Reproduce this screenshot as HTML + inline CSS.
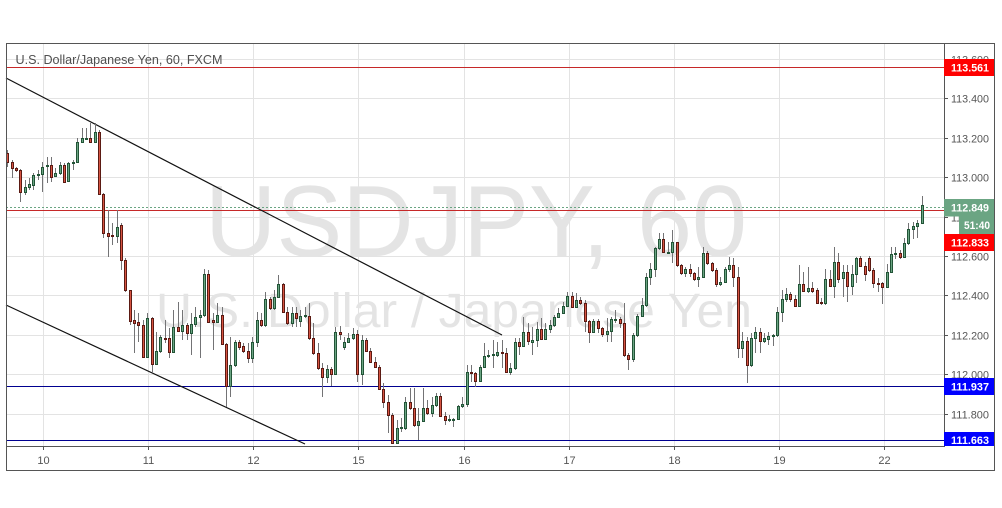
<!DOCTYPE html>
<html><head><meta charset="utf-8"><style>
html,body{margin:0;padding:0;background:#fff;}
svg{display:block;}
text{font-family:"Liberation Sans",Arial,sans-serif;}
</style></head><body>
<svg width="1002" height="508" viewBox="0 0 1002 508" xmlns="http://www.w3.org/2000/svg">
<rect x="0" y="0" width="1002" height="508" fill="#fff"/>
<!-- grid -->
<g stroke="#e3e3e3" stroke-width="1">
<path d="M6 59.5H944M6 98.5H944M6 138.5H944M6 177.5H944M6 217.5H944M6 256.5H944M6 295.5H944M6 335.5H944M6 374.5H944M6 414.5H944"/>
<path d="M43.5 43V446M148.5 43V446M253.5 43V446M358.5 43V446M464.5 43V446M569.5 43V446M674.5 43V446M779.5 43V446M884.5 43V446"/>
</g>
<!-- watermark -->
<text x="205" y="256" font-size="101" fill="#e4e4e4" textLength="542" lengthAdjust="spacingAndGlyphs">USDJPY, 60</text>
<text x="156" y="327" font-size="48" fill="#e4e4e4" textLength="596" lengthAdjust="spacingAndGlyphs">U.S. Dollar / Japanese Yen</text>
<!-- horizontal levels -->
<path d="M6 67.5H944M6 210.5H944" stroke="#c62828" stroke-width="1"/>
<path d="M6 386.5H944M6 440.5H944" stroke="#000090" stroke-width="1"/>
<path d="M6 207.5H944" stroke="#6ba583" stroke-width="1" stroke-dasharray="2,2"/>
<!-- trend lines -->
<path d="M6 78L502 335M6 305L305 444" stroke="#111" stroke-width="1.2" fill="none"/>
<!-- wicks -->
<path fill="none" stroke="#737375" stroke-width="1" d="M7.5 150V167M12.5 160V178M16.5 167V172M20.5 169V202M25.5 180V195M29.5 178V190M33.5 173V190M38.5 170V180M42.5 162V192M47.5 157V183M51.5 157V182M55.5 168V177M60.5 162V175M64.5 163V183M68.5 162V182M73.5 160V170M77.5 138V163M82.5 128V143M86.5 128V140M90.5 123V143M95.5 123V143M99.5 130V195M103.5 193V238M108.5 210V257M112.5 223V245M117.5 210V243M121.5 223V270M125.5 258V292M130.5 290V325M134.5 310V353M138.5 313V342M143.5 320V358M147.5 313V358M152.5 317V373M156.5 332V365M160.5 335V353M165.5 320V343M169.5 328V358M173.5 310V353M178.5 302V332M182.5 310V340M187.5 323V340M191.5 313V355M195.5 307V327M200.5 310V358M204.5 269V317M208.5 270V323M213.5 313V350M217.5 303V323M222.5 307V345M226.5 343V407M230.5 337V397M235.5 340V367M239.5 340V350M243.5 343V353M248.5 343V363M252.5 337V363M257.5 312V347M261.5 313V327M265.5 292V327M270.5 297V310M274.5 290V310M278.5 275V298M283.5 283V313M287.5 307V325M292.5 307V327M296.5 307V327M300.5 310V327M305.5 307V318M309.5 303V340M313.5 323V355M318.5 343V370M322.5 363V397M327.5 365V383M331.5 367V386M335.5 327V375M340.5 326V340M344.5 337V350M348.5 333V343M353.5 328V340M357.5 330V382M362.5 335V385M366.5 338V352M370.5 348V363M375.5 357V368M379.5 365V390M383.5 383V408M388.5 395V433M392.5 413V443M397.5 420V444M401.5 418V432M405.5 397V430M410.5 388V410M414.5 388V427M418.5 408V440M423.5 388V422M427.5 400V415M432.5 397V417M436.5 393V407M440.5 393V417M445.5 412V425M449.5 415V422M453.5 418V427M458.5 405V420M462.5 397V408M467.5 365V407M471.5 365V382M475.5 372V387M480.5 365V382M484.5 343V368M488.5 350V358M493.5 340V368M497.5 342V357M502.5 340V368M506.5 348V372M510.5 363V375M515.5 338V370M519.5 338V355M523.5 317V347M528.5 323V345M532.5 327V355M537.5 322V347M541.5 318V340M545.5 323V340M550.5 320V333M554.5 315V327M558.5 308V318M563.5 302V314M567.5 292V307M572.5 292V308M576.5 293V308M580.5 297V305M585.5 300V332M589.5 320V343M593.5 319V333M598.5 319V333M602.5 327V337M607.5 318V342M611.5 317V342M615.5 310V323M620.5 317V328M624.5 303V357M628.5 353V370M633.5 333V362M637.5 314V337M642.5 298V317M646.5 273V307M650.5 263V285M655.5 247V277M659.5 233V250M663.5 233V253M668.5 242V253M672.5 230V263M677.5 242V267M681.5 264V275M685.5 267V277M690.5 264V277M694.5 272V281M698.5 267V287M703.5 247V278M707.5 251V265M712.5 262V272M716.5 268V287M720.5 277V286M725.5 267V283M729.5 257V272M733.5 258V287M738.5 267V358M742.5 332V358M747.5 337V383M751.5 333V367M755.5 327V353M760.5 328V353M764.5 333V343M768.5 332V345M773.5 334V346M777.5 307V337M782.5 290V322M786.5 288V302M790.5 292V302M795.5 295V307M799.5 265V307M803.5 272V292M808.5 267V293M812.5 282V293M817.5 288V303M821.5 298V305M825.5 269V305M830.5 270V287M834.5 247V298M838.5 253V283M843.5 265V297M847.5 265V302M852.5 265V295M856.5 257V283M860.5 256V267M865.5 262V281M869.5 256V272M873.5 268V288M878.5 278V292M882.5 282V304M887.5 264V288M891.5 247V273M895.5 247V259M900.5 250V259M904.5 238V257M908.5 223V245M913.5 222V239M917.5 220V238M922.5 196V223"/>
<!-- up bodies -->
<path fill="#6ba583" stroke="#225437" stroke-width="1" d="M24.5 187.5h2V192.5h-2zM28.5 184.5h2V187.5h-2zM32.5 175.5h2V185.5h-2zM37.5 174.5h2V175.5h-2zM41.5 167.5h2V174.5h-2zM46.5 165.5h2V166.5h-2zM54.5 173.5h2V176.5h-2zM59.5 165.5h2V173.5h-2zM67.5 163.5h2V181.5h-2zM72.5 162.5h2V163.5h-2zM76.5 142.5h2V162.5h-2zM81.5 138.5h2V142.5h-2zM85.5 138.5h2V139.5h-2zM94.5 132.5h2V142.5h-2zM116.5 227.5h2V236.5h-2zM146.5 318.5h2V357.5h-2zM155.5 351.5h2V364.5h-2zM159.5 337.5h2V351.5h-2zM172.5 327.5h2V352.5h-2zM181.5 325.5h2V331.5h-2zM190.5 324.5h2V333.5h-2zM194.5 317.5h2V324.5h-2zM199.5 315.5h2V317.5h-2zM203.5 274.5h2V315.5h-2zM216.5 315.5h2V322.5h-2zM229.5 365.5h2V386.5h-2zM234.5 342.5h2V365.5h-2zM251.5 342.5h2V358.5h-2zM256.5 320.5h2V342.5h-2zM264.5 299.5h2V325.5h-2zM273.5 297.5h2V308.5h-2zM277.5 284.5h2V297.5h-2zM291.5 313.5h2V323.5h-2zM299.5 316.5h2V321.5h-2zM304.5 315.5h2V316.5h-2zM326.5 369.5h2V377.5h-2zM334.5 332.5h2V374.5h-2zM343.5 342.5h2V347.5h-2zM347.5 338.5h2V342.5h-2zM352.5 334.5h2V338.5h-2zM361.5 340.5h2V374.5h-2zM396.5 428.5h2V443.5h-2zM400.5 427.5h2V428.5h-2zM404.5 402.5h2V428.5h-2zM417.5 421.5h2V425.5h-2zM422.5 408.5h2V421.5h-2zM431.5 405.5h2V413.5h-2zM435.5 396.5h2V405.5h-2zM448.5 419.5h2V420.5h-2zM452.5 419.5h2V420.5h-2zM457.5 406.5h2V419.5h-2zM461.5 404.5h2V406.5h-2zM466.5 372.5h2V404.5h-2zM479.5 367.5h2V381.5h-2zM483.5 356.5h2V367.5h-2zM487.5 355.5h2V356.5h-2zM492.5 354.5h2V355.5h-2zM496.5 352.5h2V355.5h-2zM509.5 368.5h2V372.5h-2zM514.5 342.5h2V368.5h-2zM522.5 332.5h2V346.5h-2zM531.5 340.5h2V342.5h-2zM536.5 329.5h2V340.5h-2zM544.5 329.5h2V339.5h-2zM549.5 325.5h2V329.5h-2zM553.5 317.5h2V325.5h-2zM557.5 313.5h2V317.5h-2zM562.5 306.5h2V313.5h-2zM566.5 296.5h2V306.5h-2zM575.5 300.5h2V307.5h-2zM592.5 321.5h2V332.5h-2zM606.5 331.5h2V334.5h-2zM610.5 319.5h2V331.5h-2zM614.5 319.5h2V320.5h-2zM632.5 335.5h2V359.5h-2zM636.5 316.5h2V335.5h-2zM641.5 305.5h2V316.5h-2zM645.5 277.5h2V305.5h-2zM649.5 269.5h2V277.5h-2zM654.5 248.5h2V269.5h-2zM658.5 239.5h2V248.5h-2zM667.5 252.5h2V253.5h-2zM671.5 242.5h2V252.5h-2zM684.5 269.5h2V273.5h-2zM697.5 277.5h2V279.5h-2zM702.5 253.5h2V277.5h-2zM719.5 282.5h2V284.5h-2zM724.5 269.5h2V282.5h-2zM728.5 265.5h2V269.5h-2zM741.5 341.5h2V348.5h-2zM750.5 338.5h2V365.5h-2zM754.5 332.5h2V338.5h-2zM763.5 338.5h2V341.5h-2zM767.5 336.5h2V339.5h-2zM772.5 335.5h2V336.5h-2zM776.5 312.5h2V335.5h-2zM781.5 299.5h2V312.5h-2zM785.5 294.5h2V299.5h-2zM798.5 284.5h2V306.5h-2zM807.5 288.5h2V291.5h-2zM824.5 279.5h2V303.5h-2zM833.5 262.5h2V286.5h-2zM842.5 272.5h2V278.5h-2zM851.5 274.5h2V286.5h-2zM855.5 258.5h2V274.5h-2zM886.5 272.5h2V287.5h-2zM890.5 254.5h2V272.5h-2zM894.5 253.5h2V254.5h-2zM903.5 243.5h2V257.5h-2zM907.5 229.5h2V243.5h-2zM912.5 226.5h2V229.5h-2zM916.5 223.5h2V226.5h-2zM921.5 205.5h2V223.5h-2z"/>
<!-- down bodies -->
<path fill="#d75442" stroke="#5b1a13" stroke-width="1" d="M6.5 153.5h2V162.5h-2zM11.5 162.5h2V168.5h-2zM15.5 168.5h2V170.5h-2zM19.5 170.5h2V192.5h-2zM50.5 165.5h2V177.5h-2zM63.5 165.5h2V182.5h-2zM89.5 138.5h2V142.5h-2zM98.5 132.5h2V194.5h-2zM102.5 194.5h2V233.5h-2zM107.5 233.5h2V236.5h-2zM111.5 235.5h2V236.5h-2zM120.5 225.5h2V260.5h-2zM124.5 260.5h2V290.5h-2zM129.5 290.5h2V321.5h-2zM133.5 320.5h2V323.5h-2zM137.5 322.5h2V325.5h-2zM142.5 325.5h2V357.5h-2zM151.5 318.5h2V364.5h-2zM164.5 338.5h2V339.5h-2zM168.5 338.5h2V352.5h-2zM177.5 327.5h2V331.5h-2zM186.5 325.5h2V333.5h-2zM207.5 274.5h2V322.5h-2zM212.5 320.5h2V322.5h-2zM221.5 315.5h2V344.5h-2zM225.5 344.5h2V386.5h-2zM238.5 342.5h2V347.5h-2zM242.5 346.5h2V351.5h-2zM247.5 351.5h2V358.5h-2zM260.5 320.5h2V325.5h-2zM269.5 299.5h2V308.5h-2zM282.5 284.5h2V312.5h-2zM286.5 312.5h2V323.5h-2zM295.5 313.5h2V318.5h-2zM308.5 316.5h2V338.5h-2zM312.5 338.5h2V353.5h-2zM317.5 353.5h2V368.5h-2zM321.5 368.5h2V377.5h-2zM330.5 369.5h2V374.5h-2zM339.5 332.5h2V334.5h-2zM356.5 334.5h2V374.5h-2zM365.5 340.5h2V351.5h-2zM369.5 351.5h2V362.5h-2zM374.5 362.5h2V367.5h-2zM378.5 367.5h2V389.5h-2zM382.5 389.5h2V402.5h-2zM387.5 402.5h2V415.5h-2zM391.5 415.5h2V443.5h-2zM409.5 402.5h2V408.5h-2zM413.5 408.5h2V425.5h-2zM426.5 408.5h2V413.5h-2zM439.5 396.5h2V416.5h-2zM444.5 416.5h2V420.5h-2zM470.5 372.5h2V373.5h-2zM474.5 373.5h2V381.5h-2zM501.5 352.5h2V353.5h-2zM505.5 353.5h2V372.5h-2zM518.5 342.5h2V346.5h-2zM527.5 332.5h2V341.5h-2zM540.5 329.5h2V339.5h-2zM571.5 296.5h2V307.5h-2zM579.5 300.5h2V303.5h-2zM584.5 303.5h2V321.5h-2zM588.5 321.5h2V332.5h-2zM597.5 321.5h2V328.5h-2zM601.5 328.5h2V334.5h-2zM619.5 319.5h2V323.5h-2zM623.5 323.5h2V355.5h-2zM627.5 355.5h2V359.5h-2zM662.5 239.5h2V252.5h-2zM676.5 242.5h2V265.5h-2zM680.5 265.5h2V273.5h-2zM689.5 269.5h2V273.5h-2zM693.5 273.5h2V279.5h-2zM706.5 253.5h2V263.5h-2zM711.5 263.5h2V270.5h-2zM715.5 270.5h2V284.5h-2zM732.5 265.5h2V277.5h-2zM737.5 277.5h2V348.5h-2zM746.5 341.5h2V365.5h-2zM759.5 332.5h2V341.5h-2zM789.5 294.5h2V299.5h-2zM794.5 299.5h2V306.5h-2zM802.5 284.5h2V291.5h-2zM811.5 288.5h2V291.5h-2zM816.5 290.5h2V303.5h-2zM820.5 302.5h2V303.5h-2zM829.5 279.5h2V286.5h-2zM837.5 262.5h2V279.5h-2zM846.5 272.5h2V286.5h-2zM859.5 258.5h2V266.5h-2zM864.5 266.5h2V274.5h-2zM868.5 258.5h2V270.5h-2zM872.5 270.5h2V283.5h-2zM877.5 283.5h2V284.5h-2zM881.5 283.5h2V287.5h-2zM899.5 253.5h2V257.5h-2z"/>
<!-- title -->
<text x="15.5" y="64" font-size="13" fill="#4f4f4f" textLength="207" lengthAdjust="spacingAndGlyphs">U.S. Dollar/Japanese Yen, 60, FXCM</text>
<!-- axes / frame -->
<rect x="944.5" y="43.5" width="50" height="402" fill="#fff"/>
<path d="M944.5 43V446M6 446.5H945" stroke="#555" stroke-width="1" fill="none"/>
<rect x="6.5" y="43.5" width="988" height="427" fill="none" stroke="#555" stroke-width="1"/>
<!-- price ticks -->
<path stroke="#555" stroke-width="1" d="M944 59.5h4M944 98.5h4M944 138.5h4M944 177.5h4M944 217.5h4M944 256.5h4M944 295.5h4M944 335.5h4M944 374.5h4M944 414.5h4"/>
<g font-size="11" fill="#555">
<text x="951" y="63.5" textLength="38" lengthAdjust="spacingAndGlyphs">113.600</text>
<text x="951" y="102.5" textLength="38" lengthAdjust="spacingAndGlyphs">113.400</text>
<text x="951" y="142.5" textLength="38" lengthAdjust="spacingAndGlyphs">113.200</text>
<text x="951" y="181.5" textLength="38" lengthAdjust="spacingAndGlyphs">113.000</text>
<text x="951" y="221.5" textLength="38" lengthAdjust="spacingAndGlyphs">112.800</text>
<text x="951" y="260.5" textLength="38" lengthAdjust="spacingAndGlyphs">112.600</text>
<text x="951" y="299.5" textLength="38" lengthAdjust="spacingAndGlyphs">112.400</text>
<text x="951" y="339.5" textLength="38" lengthAdjust="spacingAndGlyphs">112.200</text>
<text x="951" y="378.5" textLength="38" lengthAdjust="spacingAndGlyphs">112.000</text>
<text x="951" y="418.5" textLength="38" lengthAdjust="spacingAndGlyphs">111.800</text>
</g>
<!-- colored price labels -->
<rect x="944" y="59" width="50" height="17" fill="#ff0000"/>
<rect x="944" y="199" width="50" height="17.5" fill="#6ba583"/>
<rect x="959" y="216.5" width="35" height="17.5" fill="#6ba583"/>
<rect x="944" y="234" width="50" height="17" fill="#ff0000"/>
<rect x="944" y="378" width="50" height="17" fill="#0000ff"/>
<rect x="944" y="432" width="50" height="14" fill="#0000ff"/>
<g font-size="11" font-weight="bold" fill="#fff">
<text x="951" y="71.5" textLength="38" lengthAdjust="spacingAndGlyphs">113.561</text>
<text x="951" y="211.5" textLength="38" lengthAdjust="spacingAndGlyphs">112.849</text>
<text x="964" y="229" textLength="26" lengthAdjust="spacingAndGlyphs">51:40</text>
<text x="951" y="246.5" textLength="38" lengthAdjust="spacingAndGlyphs">112.833</text>
<text x="951" y="390.5" textLength="38" lengthAdjust="spacingAndGlyphs">111.937</text>
<text x="951" y="444" textLength="38" lengthAdjust="spacingAndGlyphs">111.663</text>
</g>
<!-- time ticks and labels -->
<path stroke="#555" stroke-width="1" d="M43.5 446v4M148.5 446v4M253.5 446v4M358.5 446v4M464.5 446v4M569.5 446v4M674.5 446v4M779.5 446v4M884.5 446v4"/>
<g font-size="11" fill="#555" text-anchor="middle">
<text x="43.5" y="464">10</text>
<text x="148.5" y="464">11</text>
<text x="253.5" y="464">12</text>
<text x="358.5" y="464">15</text>
<text x="464.5" y="464">16</text>
<text x="569.5" y="464">17</text>
<text x="674.5" y="464">18</text>
<text x="779.5" y="464">19</text>
<text x="884.5" y="464">22</text>
</g>
</svg>
</body></html>
